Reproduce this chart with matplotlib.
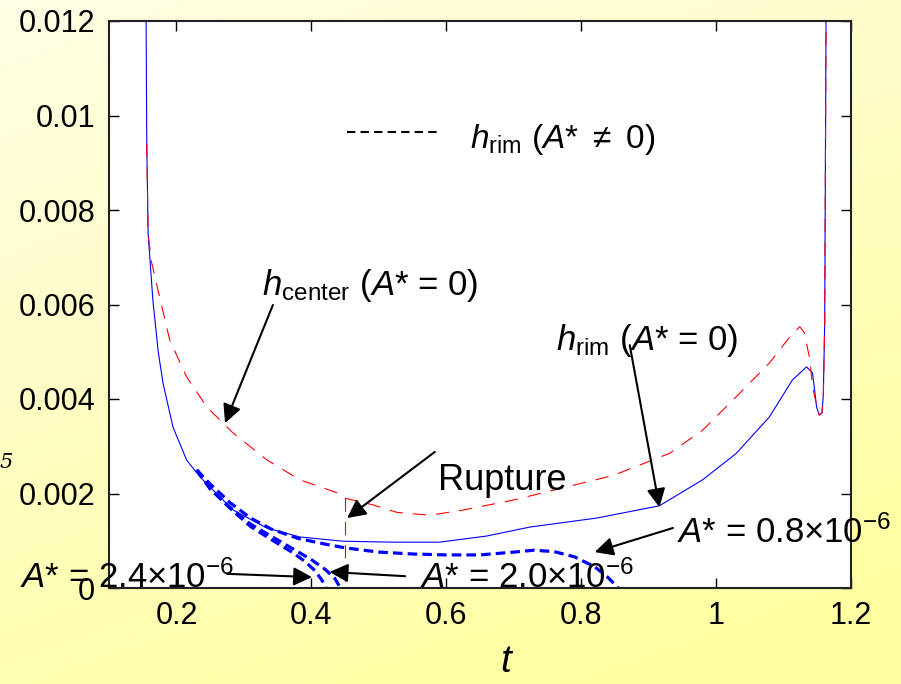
import matplotlib
matplotlib.use("Agg")
import matplotlib.pyplot as plt
import numpy as np

plt.rcParams['font.family'] = ['Liberation Sans', 'DejaVu Sans']
plt.rcParams['mathtext.fontset'] = 'custom'
plt.rcParams['mathtext.rm'] = 'Liberation Sans'
plt.rcParams['mathtext.it'] = 'Liberation Sans:italic'

# h_rim, A* = 0 (blue solid)
t_rim = [0.155, 0.156, 0.158, 0.165, 0.173, 0.180, 0.195, 0.215, 0.235, 0.284, 0.334,
         0.383, 0.447, 0.52, 0.59, 0.66, 0.724, 0.823, 0.916, 0.98, 1.03, 1.079, 1.113,
         1.134, 1.143, 1.149, 1.153, 1.157, 1.159, 1.161, 1.163]
h_rim = [0.012, 0.0094, 0.0075, 0.0061, 0.0050, 0.00434, 0.0034, 0.00271, 0.00235, 0.00165, 0.00127,
         0.00108, 0.00099, 0.00097, 0.00097, 0.00110, 0.00129, 0.00148, 0.00174, 0.00229, 0.00285, 0.00362, 0.0044,
         0.00468, 0.00455, 0.00383, 0.00366, 0.0037, 0.0041, 0.0056, 0.012]

# h_center, A* = 0 (red dashed)
t_cen = [0.156, 0.158, 0.163, 0.176, 0.19, 0.215, 0.245, 0.284, 0.334, 0.383, 0.447, 0.45,
         0.491, 0.527, 0.576, 0.625, 0.699, 0.773, 0.847, 0.931, 0.98, 1.03, 1.079, 1.109,
         1.124, 1.131, 1.139, 1.143, 1.147, 1.150, 1.153, 1.157, 1.159, 1.161, 1.163]
h_cen = [0.0094, 0.0075, 0.0069, 0.0061, 0.00525, 0.00447, 0.00383, 0.00328, 0.00271, 0.00229, 0.00197, 0.0019,
         0.00176, 0.0016, 0.00154, 0.00165, 0.00186, 0.00212, 0.00238, 0.00285, 0.00334, 0.00405, 0.00476, 0.00531,
         0.00553, 0.0054, 0.00483, 0.00426, 0.0040, 0.0038, 0.00366, 0.0037, 0.0041, 0.0056, 0.012]

# rupture drop (red dashed)
t_rup = [0.45, 0.45, 0.62]
h_rup = [0.0019, 0.0, 0.0]

# h_rim, A* != 0 (blue thick dashed)
t_a08 = [0.23, 0.25, 0.28, 0.31, 0.34, 0.38, 0.42, 0.45, 0.5, 0.55, 0.6, 0.65, 0.7, 0.73, 0.76, 0.79, 0.82, 0.84, 0.855]
h_a08 = [0.0025, 0.0022, 0.0018, 0.00148, 0.00125, 0.00105, 0.00093, 0.00085, 0.00076, 0.00072, 0.0007, 0.0007,
         0.00076, 0.0008, 0.00077, 0.00066, 0.00045, 0.00022, 0.0]
t_a20 = [0.23, 0.25, 0.28, 0.31, 0.34, 0.37, 0.4, 0.42, 0.435, 0.443]
h_a20 = [0.0025, 0.0021, 0.0017, 0.00135, 0.0011, 0.00085, 0.0006, 0.0004, 0.0002, 0.0]
t_a24 = [0.23, 0.25, 0.28, 0.31, 0.34, 0.37, 0.39, 0.405, 0.415, 0.422]
h_a24 = [0.0025, 0.0021, 0.00168, 0.0013, 0.00103, 0.00077, 0.00057, 0.00037, 0.00018, 0.0]

xticks = [0.2, 0.4, 0.6, 0.8, 1.0, 1.2]
xlabels = ['0.2', '0.4', '0.6', '0.8', '1', '1.2']
yticks = [0, 0.002, 0.004, 0.006, 0.008, 0.01, 0.012]
ylabels = ['0', '0.002', '0.004', '0.006', '0.008', '0.01', '0.012']

W, H = 901, 684
fig = plt.figure(figsize=(W / 100, H / 100), dpi=100)

# yellow gradient background
bg = fig.add_axes([0, 0, 1, 1], zorder=-10)
yy, xx = np.mgrid[0:1:200j, 0:1:200j]
g = np.clip(0.35 * xx + 0.75 * yy, 0, 1)
c0 = np.array([255, 253, 228]) / 255
c1 = np.array([255, 255, 160]) / 255
img = c0[None, None, :] * (1 - g[..., None]) + c1[None, None, :] * g[..., None]
bg.imshow(img, extent=[0, 1, 0, 1], aspect='auto', origin='upper')
bg.axis('off')

ax = fig.add_axes([109 / W, 1 - 588 / H, (851 - 109) / W, (588 - 21) / H])
ax.set_facecolor('white')

ax.plot(t_rim, h_rim, color='#0000ff', lw=0.8)
ax.plot(t_cen, h_cen, color='#ff0000', lw=0.8, linestyle=(0, (12, 9)))
ax.plot(t_rup, h_rup, color='#ff0000', lw=0.8, linestyle=(0, (12, 9)))
for tt, hh in [(t_a08, h_a08), (t_a20, h_a20), (t_a24, h_a24)]:
    ax.plot(tt, hh, color='#0000ff', lw=2.3, linestyle=(0, (3, 1.6)))

ax.set_xlim(0.1, 1.2)
ax.set_ylim(0, 0.012)
ax.set_xticks(xticks)
ax.set_xticklabels(xlabels)
ax.set_yticks(yticks)
ax.set_yticklabels(ylabels)
ax.tick_params(direction='in', length=7, width=1, top=True, right=True,
               labelsize=22, pad=9)
ax.tick_params(axis='y', pad=10)
for s in ax.spines.values():
    s.set_linewidth(1.5)
    s.set_color('#222222')

# legend-like dashed line
ax.plot([0.453, 0.59], [0.00965, 0.00965], color='black', lw=1.5, linestyle=(0, (4, 2.5)))

# arrows
arrows = [
    ((0.343, 0.00599), (0.272, 0.00349)),
    ((0.583, 0.00288), (0.453, 0.00148)),
    ((0.872, 0.00514), (0.916, 0.00171)),
    ((0.936, 0.00127), (0.82, 0.00076)),
    ((0.275, 0.00030), (0.401, 0.00023)),
    ((0.539, 0.00025), (0.427, 0.00034)),
]
for tail, tip in arrows:
    ax.annotate('', xy=tip, xytext=tail, annotation_clip=False,
                arrowprops=dict(arrowstyle='-|>', color='black', lw=1.5,
                                mutation_scale=28, shrinkA=0, shrinkB=0))


def ftext(px, py, s, **kw):
    fig.text(px / W, 1 - py / H, s, va='baseline', ha='left', **kw)


ftext(470, 148, r'$h_{\mathrm{rim}}$ ($A$* $\neq$ 0)', fontsize=24)
ftext(262, 295, r'$h_{\mathrm{center}}$ ($A$* = 0)', fontsize=25)
ftext(556, 350, r'$h_{\mathrm{rim}}$ ($A$* = 0)', fontsize=25)
ftext(438, 490, 'Rupture', fontsize=26)
ftext(677, 543, r'$A$* = 0.8×10$^{\mathrm{-6}}$', fontsize=25)
ftext(420, 588, r'$A$* = 2.0×10$^{\mathrm{-6}}$', fontsize=25)
ftext(20, 588, r'$A$* = 2.4×10$^{\mathrm{-6}}$', fontsize=25)
ftext(0, 468, '5', fontsize=15, family='DejaVu Serif', style='italic')
ftext(500, 672, r'$t$', fontsize=28)

fig.savefig('out.png', dpi=100)
